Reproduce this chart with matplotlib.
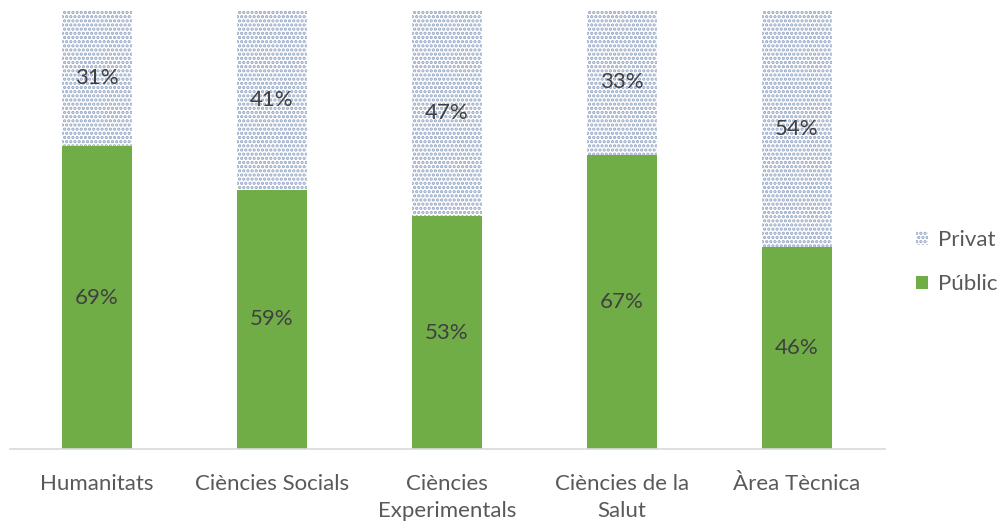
import matplotlib
matplotlib.use("Agg")
import matplotlib.pyplot as plt
from matplotlib.patches import Patch

categories = ["Humanitats", "Ciències Socials", "Ciències\nExperimentals", "Ciències de la\nSalut", "Àrea Tècnica"]
public = [69, 59, 53, 67, 46]
private = [31, 41, 47, 33, 54]

plt.rcParams['font.family'] = ['Lato', 'DejaVu Sans']
plt.rcParams['hatch.linewidth'] = 1.6

fig = plt.figure(figsize=(10.08, 5.23), dpi=100)
ax = fig.add_axes([9.5/1008, 1-449/523, 875/1008, 439/523])

x = list(range(len(categories)))
green = '#70ad47'
hatch_col = '#94a5c4'
ax.bar(x, public, width=0.4, color=green, linewidth=0)
ax.bar(x, private, width=0.4, bottom=public, facecolor='white',
       edgecolor=hatch_col, hatch='....', linewidth=0)

fs = 16
for i in x:
    ax.text(i, public[i] / 2, f"{public[i]}%", ha='center', va='center', fontsize=fs, color='#404040')
    ax.text(i, public[i] + private[i] / 2, f"{private[i]}%", ha='center', va='center', fontsize=fs, color='#404040')

ax.set_xlim(-0.5, len(categories) - 0.5)
ax.set_ylim(0, 100)
ax.set_xticks(x)
ax.set_xticklabels(categories, fontsize=fs, color='#595959', linespacing=1.45)
ax.tick_params(axis='x', length=0, pad=18)
ax.set_yticks([])
for s in ['top', 'right', 'left']:
    ax.spines[s].set_visible(False)
ax.spines['bottom'].set_color('#d9d9d9')
ax.spines['bottom'].set_linewidth(1.2)

handles = [Patch(facecolor='white', edgecolor=hatch_col, hatch='....', linewidth=0),
           Patch(facecolor=green, linewidth=0)]
fig.legend(handles, ['Privat', 'Públic'], loc='center left', bbox_to_anchor=(896/1008, 1-262/523),
           frameon=False, fontsize=fs, labelcolor='#595959', handlelength=0.55, handleheight=0.55,
           handletextpad=0.45, labelspacing=1.1)

fig.savefig("out.png", dpi=100)
